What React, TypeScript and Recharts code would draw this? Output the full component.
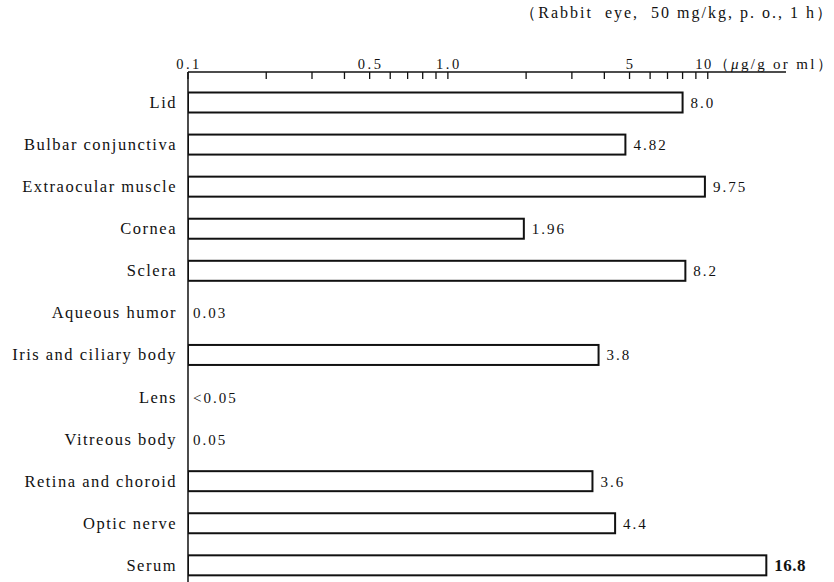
import { BarChart, Bar, XAxis, YAxis, LabelList } from 'recharts';

const tissues = [
  'Lid',
  'Bulbar conjunctiva',
  'Extraocular muscle',
  'Cornea',
  'Sclera',
  'Aqueous humor',
  'Iris and ciliary body',
  'Lens',
  'Vitreous body',
  'Retina and choroid',
  'Optic nerve',
  'Serum',
];

// μg/g or ml
const concentrations = [8.0, 4.82, 9.75, 1.96, 8.2, 0.03, 3.8, 0.05, 0.05, 3.6, 4.4, 16.8];
const valueLabels = ['8.0', '4.82', '9.75', '1.96', '8.2', '0.03', '3.8', '<0.05', '0.05', '3.6', '4.4', '16.8'];

const axisMin = 0.1;
const axisMax = 20;
const tickValues = [0.1, 0.2, 0.3, 0.4, 0.5, 0.6, 0.7, 0.8, 0.9, 1, 2, 3, 4, 5, 6, 7, 8, 9, 10];
const tickLabels: Record<string, string> = { '0.1': '0.1', '0.5': '0.5', '1': '1.0', '5': '5', '10': '10' };

const data = tissues.map((tissue, i) => ({
  tissue,
  value: concentrations[i],
  label: valueLabels[i],
}));

const serif = '"Liberation Serif", "Times New Roman", serif';

const TopTick = (props: any) => {
  const { x, y, payload } = props;
  const label = tickLabels[String(payload.value)];
  const isLast = payload.value === 10;
  return (
    <g>
      <line x1={x} y1={y} x2={x} y2={y + 7} stroke="#111" strokeWidth={1.3} />
      {label && (
        <text
          x={isLast ? x + 5 : x + 1}
          y={y - 3}
          textAnchor={isLast ? 'end' : 'middle'}
          fontFamily={serif}
          fontSize={14.5}
          letterSpacing={isLast ? 1.5 : 2.5}
          fill="#111"
        >
          {label}
        </text>
      )}
      {isLast && (
        <text x={x + 6} y={y - 3} fontFamily={serif} fontSize={15} letterSpacing={2.3} fill="#111">
          （<tspan fontStyle="italic">μ</tspan>g/g  or  ml）
        </text>
      )}
    </g>
  );
};

const LeftTick = (props: any) => {
  const { x, y, payload } = props;
  return (
    <text
      x={x - 11}
      y={y}
      dy={5.5}
      textAnchor="end"
      fontFamily={serif}
      fontSize={16.5}
      letterSpacing={1.5}
      fill="#111"
    >
      {payload.value}
    </text>
  );
};

const BarShape = (props: any) => {
  const { x, y, width, height, payload } = props;
  if (payload.value < axisMin) return <g />;
  const left = Math.min(x, x + width);
  return (
    <rect
      x={left}
      y={y}
      width={Math.abs(width)}
      height={height}
      fill="#fff"
      stroke="#111"
      strokeWidth={2}
    />
  );
};

const ValueLabel = (props: any) => {
  const vb = props.viewBox ?? props;
  const x = vb.x ?? props.x;
  const y = vb.y ?? props.y;
  const width = vb.width ?? props.width;
  const height = vb.height ?? props.height;
  const { index, value } = props;
  const below = concentrations[index] < axisMin;
  const tx = below ? Math.max(x, x + width) + 5 : x + width + 8;
  const isSerum = tissues[index] === 'Serum';
  return (
    <text
      x={tx}
      y={y + height / 2}
      dy={5.5}
      fontFamily={serif}
      fontSize={isSerum ? 17 : 15}
      fontWeight={isSerum ? 600 : 400}
      letterSpacing={isSerum ? 0.5 : 2}
      fill="#111"
    >
      {value}
    </text>
  );
};

export default function App() {
  return (
    <div
      style={{
        position: 'fixed',
        top: 0,
        left: 0,
        width: 834,
        height: 582,
        overflow: 'hidden',
        background: '#fff',
      }}
    >
      <div
        style={{
          position: 'absolute',
          right: 0,
          top: 3,
          fontFamily: serif,
          fontSize: 16,
          letterSpacing: 2,
          color: '#111',
          whiteSpace: 'pre',
        }}
      >
        （Rabbit  eye,  50 mg/kg, p. o., 1 h）
      </div>
      <BarChart
        width={834}
        height={600}
        data={data}
        layout="vertical"
        margin={{ top: 42, right: 48, bottom: 13.6, left: 0 }}
      >
        <XAxis
          type="number"
          scale="log"
          domain={[axisMin, axisMax]}
          allowDataOverflow
          ticks={tickValues}
          interval={0}
          orientation="top"
          height={30}
          tickSize={0}
          tickMargin={0}
          tickLine={false}
          axisLine={{ stroke: '#111', strokeWidth: 1.5 }}
          tick={<TopTick />}
        />
        <YAxis
          type="category"
          dataKey="tissue"
          width={188}
          padding={{ top: 9.5, bottom: 0 }}
          tickSize={0}
          tickMargin={0}
          tickLine={false}
          interval={0}
          axisLine={{ stroke: '#111', strokeWidth: 1.5 }}
          tick={<LeftTick />}
        />
        <Bar dataKey="value" barSize={20} shape={<BarShape />} isAnimationActive={false}>
          <LabelList dataKey="label" content={<ValueLabel />} />
        </Bar>
      </BarChart>
    </div>
  );
}
